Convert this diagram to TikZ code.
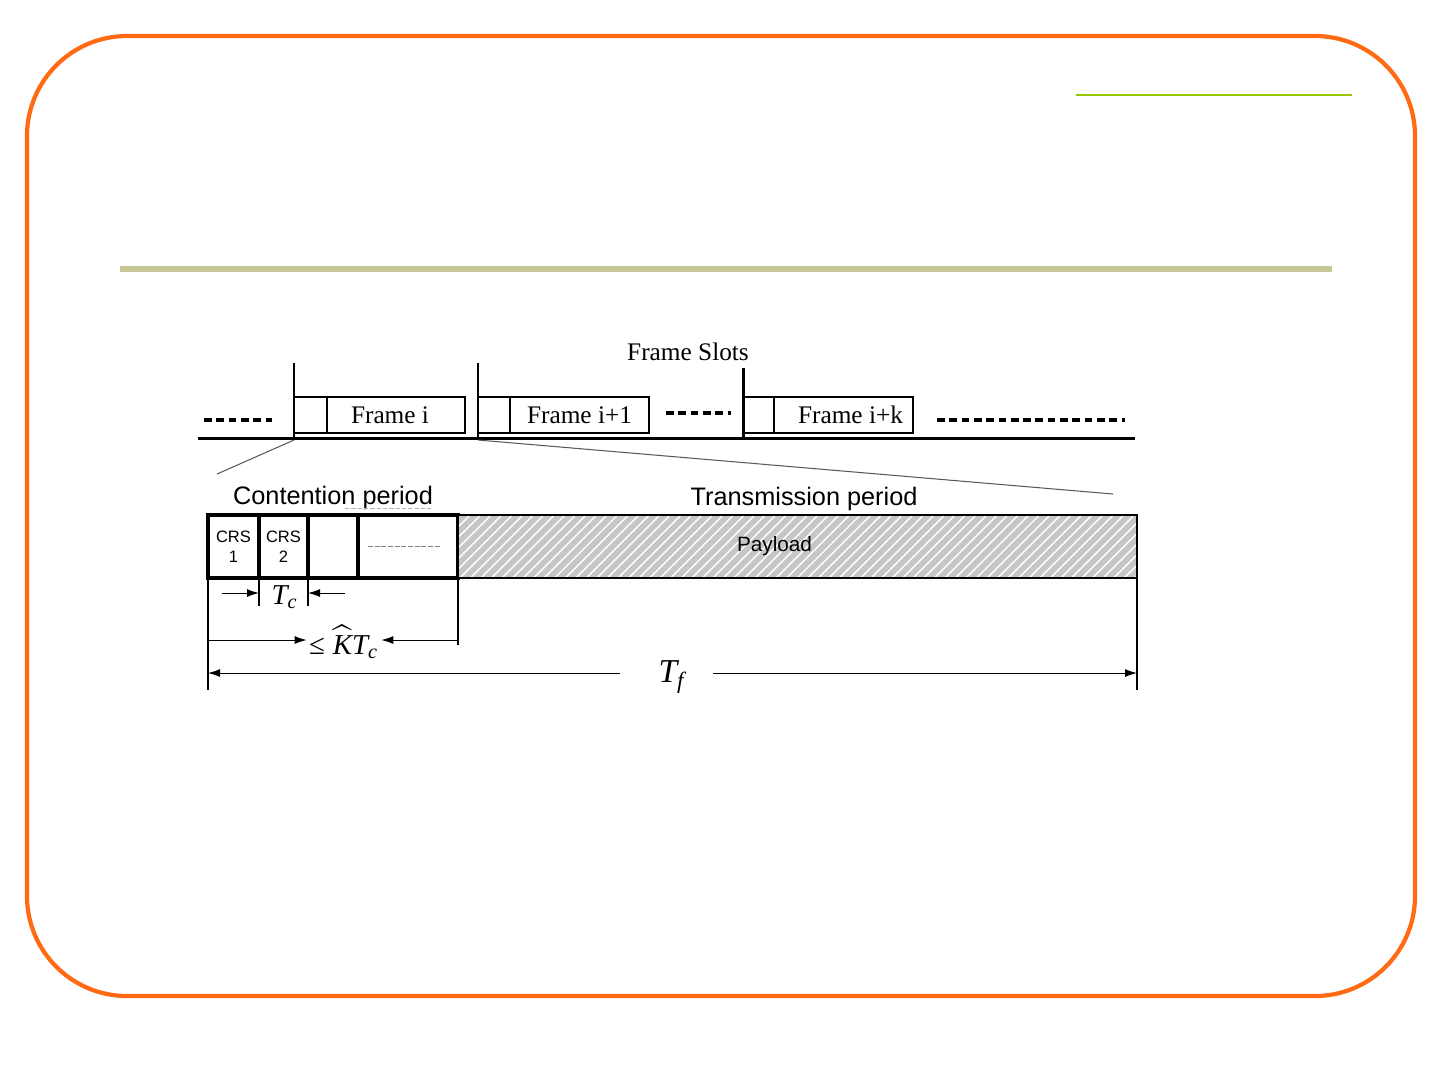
\documentclass[tikz,border=0pt]{standalone}
\usepackage{fontspec}
\setmainfont{Liberation Serif}
\setsansfont{Liberation Sans}
\usetikzlibrary{arrows.meta,patterns}

\definecolor{slideorange}{HTML}{FF6A13}
\definecolor{slidegreen}{HTML}{99C800}
\definecolor{slideolive}{HTML}{C8C896}

\tikzset{
  slotbox/.style={draw, line width=0.45pt, minimum height=3.6mm, inner sep=0pt, outer sep=0pt,
    anchor=north west, font=\fontsize{7.2}{8}\selectfont},
  cellbox/.style={draw, line width=0.9pt, minimum height=6.3mm, inner sep=0pt, outer sep=0pt,
    anchor=north west, align=center, font=\sffamily\fontsize{4.7}{5.6}\selectfont},
  tick/.style={line width=0.45pt},
  zoomline/.style={gray!70!black, line width=0.3pt},
  dimline/.style={line width=0.3pt},
  dimarrow/.style={line width=0.3pt, -{Latex[length=1.2mm,width=0.8mm]}},
  dots/.style={line width=0.9pt, dash pattern=on 2.2pt off 1.3pt},
  period/.style={font=\sffamily\fontsize{7.2}{8}\selectfont},
  dimlabel/.style={inner sep=0.5pt, font=\itshape\fontsize{8.2}{9}\selectfont}
}
\newcommand{\tsub}[2]{#1\textsubscript{#2}}

\begin{document}
\begin{tikzpicture}[x=0.1mm, y=-0.1mm]
  \useasboundingbox (0,0) rectangle (1440,1080);

  % slide decoration
  \draw[slideorange, line width=1.2pt, rounded corners=10mm] (27,36) rectangle (1415,996);
  \draw[slidegreen, line width=0.8pt] (1076,95) -- (1352,95);
  \draw[slideolive, line width=1.5pt] (120,269) -- (1332,269);

  % === FRAME SLOTS ===
  \node[font=\fontsize{7.2}{8}\selectfont] (slots) at (688,352) {Frame Slots};

  \node[slotbox, minimum width=3.3mm] (hi) at (294,397) {};
  \node[slotbox, minimum width=13.8mm] (fi) at (hi.north east) {Frame i\hspace*{1.2mm}};
  \node[slotbox, minimum width=3.2mm] (hj) at (478,397) {};
  \node[slotbox, minimum width=13.9mm] (fj) at (hj.north east) {Frame i+1};
  \node[slotbox, minimum width=3.1mm] (hk) at (743,397) {};
  \node[slotbox, minimum width=13.9mm] (fk) at (hk.north east) {\hspace*{1.4mm}Frame i+k};

  % slot boundaries
  \draw[tick] (294,363) -- (294,438);
  \draw[tick] (478,363) -- (478,438);
  \draw[line width=0.85pt] (743,368) -- (743,438);

  % time axis
  \coordinate (axisL) at (198,438);
  \coordinate (axisR) at (1135,438);
  \draw[line width=0.85pt] (axisL) -- (axisR);
  \draw[dots] (204,420) -- (272,420);
  \draw[dots] (666,413) -- (731,413);
  \draw[dots] (937,420) -- (1125,420);

  % === ONE FRAME ===
  \node[cellbox, minimum width=5.1mm] (crs1) at (208,515) {CRS\\1};
  \node[cellbox, minimum width=4.9mm] (crs2) at (crs1.north east) {CRS\\2};
  \node[cellbox, minimum width=5.0mm] (crs3) at (crs2.north east) {};
  \node[cellbox, minimum width=10.0mm] (crsn) at (crs3.north east) {};
  \draw[gray, line width=0.3pt, dash pattern=on 1.4pt off 0.5pt]
    ([xshift=1mm]crsn.west) -- ([xshift=-1.7mm]crsn.west -| crsn.east);
  \fill[gray!45] (458,515) rectangle (1137,578);
  \fill[pattern=north east lines, pattern color=white] (458,515) rectangle (1137,578);
  \node[draw, line width=0.45pt, minimum width=67.9mm, minimum height=6.3mm, inner sep=0pt,
    outer sep=0pt, anchor=north west, font=\sffamily\fontsize{5.9}{7}\selectfont]
    (pay) at (458,515) {Payload\hspace*{4.6mm}};

  \node[period] (cont) at (333,498) {Contention period};
  \draw[gray!60, line width=0.3pt, dash pattern=on 1.2pt off 0.6pt] (345,508) -- (433,508);
  \node[period] (trans) at (804,499) {Transmission period};

  % zoom lines
  \draw[zoomline] (294,440) -- (217,474);
  \draw[zoomline] (478,440) -- (1113,494);

  % T_c
  \draw[dimline] (crs2.south west) -- ++(0,28);
  \draw[dimline] (crs2.south east) -- ++(0,28);
  \coordinate (tcL) at (222,593);
  \coordinate (tcR) at (345,593);
  \draw[dimarrow] (tcL) -- (tcL -| crs2.west);
  \draw[dimarrow] (tcR) -- (tcR -| crs2.east);
  \node[dimlabel] (tc) at (285,597) {\tsub{T}{c}};

  % K T_c
  \draw[dimline] (pay.south west) -- ++(0,67);
  \coordinate (kL) at (208,640);
  \coordinate (kR) at (458,640);
  \node[dimlabel] (ktc) at (344,642) {{\upshape ≤}\;$\widehat{\mbox{\itshape K}}$\tsub{T}{c}};
  \draw[dimarrow] (kL) -- (kL -| ktc.west);
  \draw[dimarrow] (kR) -- (kR -| ktc.east);

  % T_f
  \draw[dimline] (crs1.south west) -- ++(0,112);
  \draw[dimline] (pay.south east) -- ++(0,112);
  \coordinate (tfL) at (208,673);
  \coordinate (tfR) at (1137,673);
  \node[dimlabel, font=\itshape\fontsize{9.5}{10}\selectfont] (tf) at (672,677) {\tsub{T}{f}};
  \draw[dimarrow] (620,673) -- (tfL);
  \draw[dimarrow] (713,673) -- (tfR);
\end{tikzpicture}
\end{document}
